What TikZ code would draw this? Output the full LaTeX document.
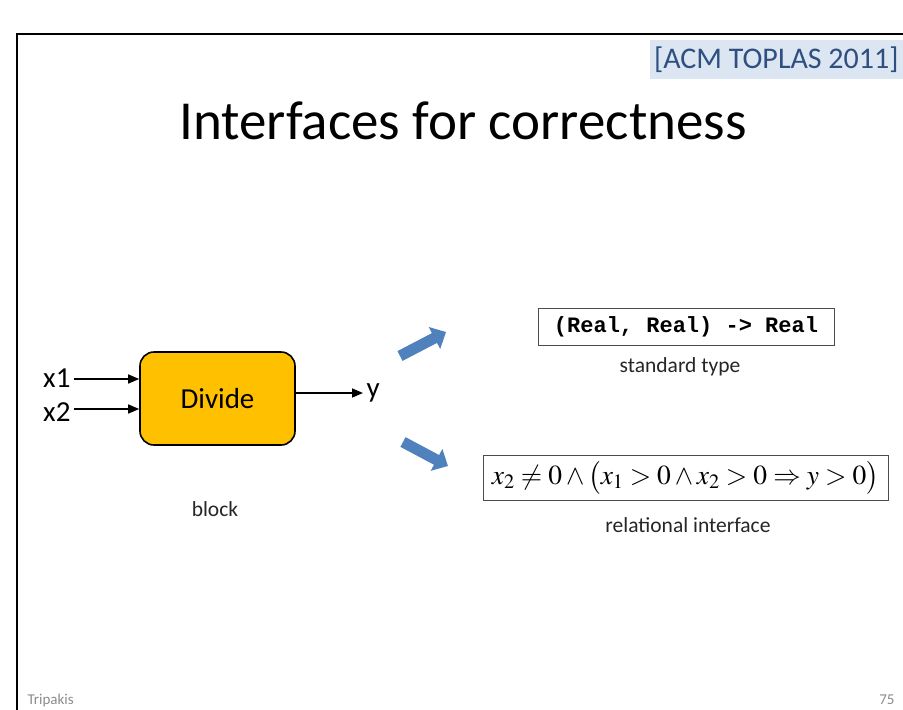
\documentclass[tikz,border=0pt]{standalone}
\usepackage{mathptmx}
\usepackage{fontspec}
\setmainfont{Carlito}
\newfontfamily\monobold{Liberation Mono}
\usetikzlibrary{arrows.meta}
\definecolor{divfill}{HTML}{FFC000}
\definecolor{bluearrow}{HTML}{4F81BD}
\definecolor{badgebg}{HTML}{DCE6F2}
\definecolor{badgetext}{HTML}{2F4F7F}
\definecolor{footgray}{HTML}{8C8C8C}
\tikzset{
  wire/.style={line width=1.6pt,-{Triangle[length=11pt,width=9pt]}},
  fatarrow/.style={bluearrow,line width=11pt,-{Triangle[length=13pt,width=24pt]}},
  caption/.style={font=\fontsize{21.5}{24}\selectfont,text=black!85},
  lbl/.style={font=\fontsize{29}{32}\selectfont},
  typebox/.style={draw=black!70,line width=1pt,inner sep=0pt}
}
\begin{document}
\begin{tikzpicture}[x=1pt,y=-1pt]
\useasboundingbox (0,0) rectangle (903,710);
\fill[white] (0,0) rectangle (903,710);
% slide frame
\draw[line width=2pt] (17,720) -- (17,34) -- (915,34);
% citation badge
\node[fill=badgebg,text=badgetext,minimum width=253pt,minimum height=39pt,anchor=north east,
  font=\fontsize{30}{33}\selectfont] (cite) at (903,40) {[ACM TOPLAS 2011]};
% title
\node[font=\fontsize{55}{60}\selectfont] (title) at (463,121) {Interfaces for correctness};
% block
\node[draw,line width=1.6pt,fill=divfill,rounded corners=14pt,minimum width=155pt,
  minimum height=93pt,font=\fontsize{29}{32}\selectfont] (div) at (217.5,398.5) {Divide};
\node[lbl,anchor=east] (x1) at (74,378) {x1};
\node[lbl,anchor=east] (x2) at (74,412) {x2};
\node[lbl,anchor=west] (y) at (363,393) {y};
\coordinate (in1) at (div.west |- 0,379);
\coordinate (in2) at (div.west |- 0,409);
\coordinate (out) at (div.east |- 0,393);
\draw[wire] (x1.east |- in1) -- (in1);
\draw[wire] (x2.east |- in2) -- (in2);
\draw[wire] (out) -- (y.west |- out);
\node[caption] (blk) at (215,509) {block};
% interface arrows
\coordinate (upA) at (400,356);
\coordinate (upB) at (446,332);
\coordinate (dnA) at (403,442);
\coordinate (dnB) at (448,466);
\draw[fatarrow] (upA) -- (upB);
\draw[fatarrow] (dnA) -- (dnB);
% standard type
\node[typebox,minimum width=296pt,minimum height=37pt] (std) at (686,326.5)
  {\monobold\bfseries\fontsize{22}{25}\selectfont (Real, Real) -> Real};
\node[caption] (stdl) at (680,367) {standard type};
% relational interface
\node[typebox,minimum width=405pt,minimum height=45pt] (rel) at (685.5,477.5)
  {\fontsize{27.5}{30}\selectfont $x_2\neq 0\wedge\bigl(x_1>0\wedge x_2>0\Rightarrow y>0\bigr)$};
\node[caption] (rell) at (688,525) {relational interface};
% footer
\node[text=footgray,font=\fontsize{15}{17}\selectfont,anchor=west] (auth) at (24,700) {Tripakis};
\node[text=footgray,font=\fontsize{15}{17}\selectfont,anchor=east] (page) at (898,700) {75};
\end{tikzpicture}
\end{document}
